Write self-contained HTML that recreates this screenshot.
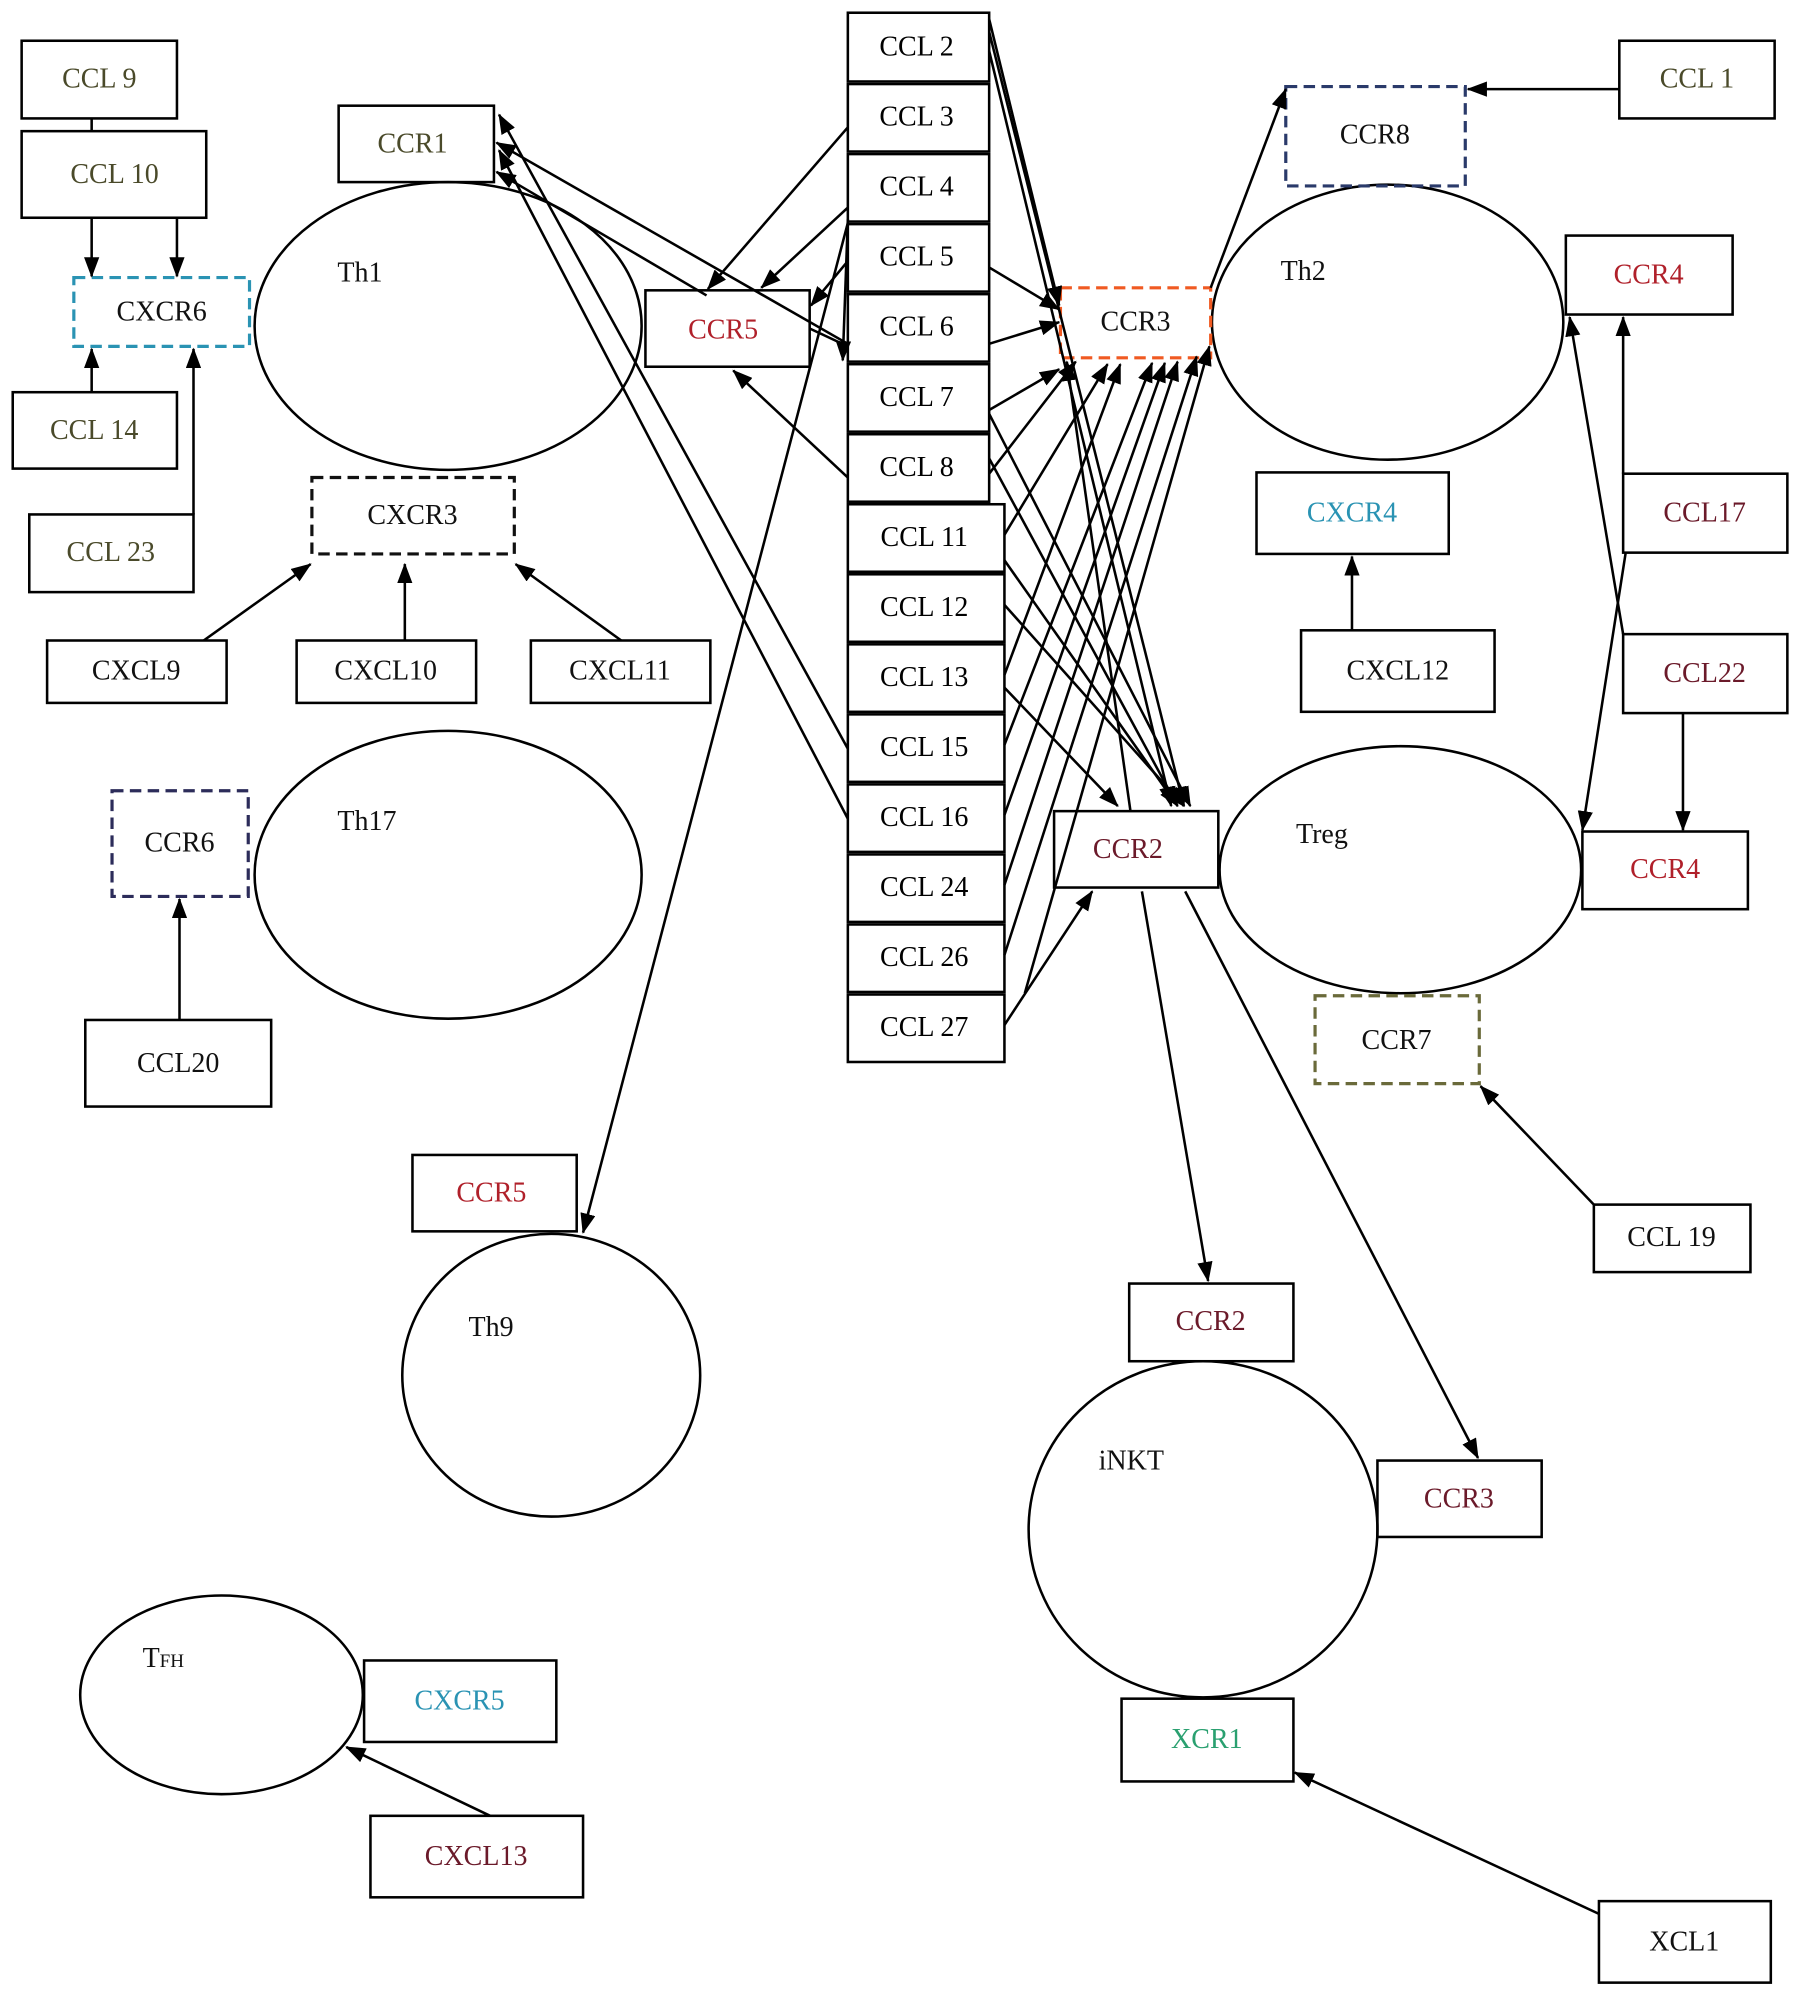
<!DOCTYPE html>
<html><head><meta charset="utf-8"><style>
html,body{margin:0;padding:0;background:#fff;}
svg{display:block;}
text{font-family:"Liberation Serif",serif;font-size:22px;}
</style></head><body>
<svg width="1795" height="1989" viewBox="0 0 1410 1562" preserveAspectRatio="none" xmlns="http://www.w3.org/2000/svg">
<defs><marker id="a" markerWidth="16" markerHeight="12" refX="15" refY="6" orient="auto" markerUnits="userSpaceOnUse"><path d="M0,0 L16,6 L0,12 z" fill="#000"/></marker></defs>
<rect width="1410" height="1562" fill="#fff"/>
<g fill="none" stroke="#000" stroke-width="2">
<!-- ellipses -->
<ellipse cx="352" cy="256" rx="152" ry="113"/>
<ellipse cx="352" cy="687" rx="152" ry="113"/>
<ellipse cx="433" cy="1080" rx="117" ry="111"/>
<ellipse cx="174" cy="1331" rx="111" ry="78"/>
<ellipse cx="1090" cy="253" rx="138" ry="108"/>
<ellipse cx="1100" cy="683" rx="142" ry="97"/>
<ellipse cx="945" cy="1201" rx="137" ry="132"/>
<!-- solid boxes -->
<rect x="17" y="32" width="122" height="61"/>
<rect x="17" y="103" width="145" height="68"/>
<rect x="10" y="308" width="129" height="60"/>
<rect x="23" y="404" width="129" height="61"/>
<rect x="266" y="83" width="122" height="60"/>
<rect x="37" y="503" width="141" height="49"/>
<rect x="233" y="503" width="141" height="49"/>
<rect x="417" y="503" width="141" height="49"/>
<rect x="507" y="228" width="129" height="60"/>
<rect x="67" y="801" width="146" height="68"/>
<rect x="324" y="907" width="129" height="60"/>
<rect x="286" y="1304" width="151" height="64"/>
<rect x="291" y="1426" width="167" height="64"/>
<rect x="1272" y="32" width="122" height="61"/>
<rect x="1230" y="185" width="131" height="62"/>
<rect x="987" y="371" width="151" height="64"/>
<rect x="1022" y="495" width="152" height="64"/>
<rect x="1275" y="372" width="129" height="62"/>
<rect x="1275" y="498" width="129" height="62"/>
<rect x="1243" y="653" width="130" height="61"/>
<rect x="828" y="637" width="129" height="60"/>
<rect x="1252" y="946" width="123" height="53"/>
<rect x="887" y="1008" width="129" height="61"/>
<rect x="1082" y="1147" width="129" height="60"/>
<rect x="881" y="1334" width="135" height="65"/>
<rect x="1256" y="1493" width="135" height="64"/>
<!-- CCL stack -->
<rect x="666" y="10" width="111" height="54"/>
<rect x="666" y="66" width="111" height="53"/>
<rect x="666" y="121" width="111" height="53"/>
<rect x="666" y="176" width="111" height="53"/>
<rect x="666" y="231" width="111" height="53"/>
<rect x="666" y="286" width="111" height="53"/>
<rect x="666" y="341" width="111" height="53"/>
<rect x="666" y="396" width="123" height="53"/>
<rect x="666" y="451" width="123" height="53"/>
<rect x="666" y="506" width="123" height="53"/>
<rect x="666" y="561" width="123" height="53"/>
<rect x="666" y="616" width="123" height="53"/>
<rect x="666" y="671" width="123" height="53"/>
<rect x="666" y="726" width="123" height="53"/>
<rect x="666" y="781" width="123" height="53"/>
</g>
<!-- dashed boxes -->
<g fill="none" stroke-width="2.5" stroke-dasharray="9,5">
<rect x="58" y="218" width="138" height="54" stroke="#2a93b3"/>
<rect x="245" y="375" width="159" height="60" stroke="#111"/>
<rect x="88" y="621" width="107" height="83" stroke="#2c2c5a"/>
<rect x="833" y="226" width="118" height="55" stroke="#f05a22"/>
<rect x="1010" y="68" width="141" height="78" stroke="#2a3a6a"/>
<rect x="1033" y="782" width="129" height="69" stroke="#6a6a3a"/>
</g>
<!-- connectors -->
<g stroke="#000" stroke-width="2" fill="none">
<line x1="72" y1="93" x2="72" y2="103"/>
<line x1="72" y1="171" x2="72" y2="217" marker-end="url(#a)"/>
<line x1="139" y1="171" x2="139" y2="217" marker-end="url(#a)"/>
<line x1="72" y1="308" x2="72" y2="274" marker-end="url(#a)"/>
<polyline points="152,404 152,274" marker-end="url(#a)"/>
<line x1="160" y1="503" x2="244" y2="443" marker-end="url(#a)"/>
<line x1="318" y1="503" x2="318" y2="443" marker-end="url(#a)"/>
<line x1="488" y1="503" x2="405" y2="443" marker-end="url(#a)"/>
<line x1="141" y1="801" x2="141" y2="706" marker-end="url(#a)"/>
<line x1="385" y1="1426" x2="272" y2="1372" marker-end="url(#a)"/>
<!-- to CCR1 -->
<line x1="666" y1="270" x2="390" y2="112" marker-end="url(#a)"/>
<line x1="555" y1="232" x2="390" y2="135" marker-end="url(#a)"/>
<line x1="666" y1="588" x2="392" y2="90" marker-end="url(#a)"/>
<line x1="666" y1="643" x2="392" y2="118" marker-end="url(#a)"/>
<!-- to CCR5 -->
<line x1="666" y1="100" x2="556" y2="227" marker-end="url(#a)"/>
<line x1="666" y1="163" x2="598" y2="226" marker-end="url(#a)"/>
<line x1="666" y1="205" x2="637" y2="240" marker-end="url(#a)"/>
<line x1="666" y1="375" x2="576" y2="291" marker-end="url(#a)"/>
<line x1="636" y1="258" x2="666" y2="272"/>
<line x1="666" y1="172" x2="662" y2="283" marker-end="url(#a)"/>
<line x1="666" y1="175" x2="458" y2="968" marker-end="url(#a)"/>
<!-- to CCR3 -->
<line x1="777" y1="15" x2="832" y2="240" marker-end="url(#a)"/>
<line x1="777" y1="210" x2="832" y2="243" marker-end="url(#a)"/>
<line x1="777" y1="270" x2="832" y2="253" marker-end="url(#a)"/>
<line x1="777" y1="322" x2="832" y2="290" marker-end="url(#a)"/>
<line x1="777" y1="372" x2="845" y2="284" marker-end="url(#a)"/>
<line x1="789" y1="420" x2="870" y2="286" marker-end="url(#a)"/>
<line x1="789" y1="530" x2="880" y2="286" marker-end="url(#a)"/>
<line x1="789" y1="585" x2="905" y2="285" marker-end="url(#a)"/>
<line x1="789" y1="640" x2="915" y2="285" marker-end="url(#a)"/>
<line x1="789" y1="695" x2="925" y2="284" marker-end="url(#a)"/>
<line x1="789" y1="750" x2="940" y2="280" marker-end="url(#a)"/>
<line x1="805" y1="780" x2="950" y2="272" marker-end="url(#a)"/>
<line x1="888" y1="637" x2="838" y2="284" marker-end="url(#a)"/>
<!-- to CCR2 -->
<line x1="777" y1="25" x2="930" y2="633" marker-end="url(#a)"/>
<line x1="777" y1="40" x2="920" y2="633" marker-end="url(#a)"/>
<line x1="777" y1="325" x2="935" y2="633" marker-end="url(#a)"/>
<line x1="777" y1="360" x2="925" y2="633" marker-end="url(#a)"/>
<line x1="789" y1="440" x2="925" y2="633" marker-end="url(#a)"/>
<line x1="789" y1="475" x2="930" y2="633" marker-end="url(#a)"/>
<line x1="789" y1="540" x2="878" y2="633" marker-end="url(#a)"/>
<line x1="789" y1="805" x2="858" y2="700" marker-end="url(#a)"/>
<!-- right side -->
<line x1="951" y1="226" x2="1010" y2="70" marker-end="url(#a)"/>
<line x1="1272" y1="70" x2="1153" y2="70" marker-end="url(#a)"/>
<line x1="1062" y1="495" x2="1062" y2="437" marker-end="url(#a)"/>
<line x1="1275" y1="372" x2="1275" y2="249" marker-end="url(#a)"/>
<line x1="1277" y1="434" x2="1243" y2="652" marker-end="url(#a)"/>
<line x1="1275" y1="498" x2="1233" y2="249" marker-end="url(#a)"/>
<line x1="1322" y1="560" x2="1322" y2="652" marker-end="url(#a)"/>
<line x1="1252" y1="946" x2="1163" y2="853" marker-end="url(#a)"/>
<line x1="897" y1="700" x2="949" y2="1006" marker-end="url(#a)"/>
<line x1="931" y1="700" x2="1161" y2="1145" marker-end="url(#a)"/>
<line x1="1256" y1="1503" x2="1017" y2="1392" marker-end="url(#a)"/>
</g>
<!-- labels -->
<g text-anchor="middle" dominant-baseline="central">
<text x="78" y="62" fill="#4a4a2a">CCL 9</text>
<text x="90" y="137" fill="#4a4a2a">CCL 10</text>
<text x="127" y="245" fill="#111">CXCR6</text>
<text x="74" y="338" fill="#4a4a2a">CCL 14</text>
<text x="87" y="434" fill="#4a4a2a">CCL 23</text>
<text x="324" y="113" fill="#4a4a2a">CCR1</text>
<text x="324" y="405" fill="#111">CXCR3</text>
<text x="107" y="527" fill="#111">CXCL9</text>
<text x="303" y="527" fill="#111">CXCL10</text>
<text x="487" y="527" fill="#111">CXCL11</text>
<text x="568" y="259" fill="#b0202a">CCR5</text>
<text x="141" y="662" fill="#111">CCR6</text>
<text x="140" y="835" fill="#111">CCL20</text>
<text x="386" y="937" fill="#b0202a">CCR5</text>
<text x="361" y="1336" fill="#2a93b3">CXCR5</text>
<text x="374" y="1458" fill="#6b1a2a">CXCL13</text>
<text x="720" y="37">CCL 2</text>
<text x="720" y="92">CCL 3</text>
<text x="720" y="147">CCL 4</text>
<text x="720" y="202">CCL 5</text>
<text x="720" y="257">CCL 6</text>
<text x="720" y="312">CCL 7</text>
<text x="720" y="367">CCL 8</text>
<text x="726" y="422">CCL 11</text>
<text x="726" y="477">CCL 12</text>
<text x="726" y="532">CCL 13</text>
<text x="726" y="587">CCL 15</text>
<text x="726" y="642">CCL 16</text>
<text x="726" y="697">CCL 24</text>
<text x="726" y="752">CCL 26</text>
<text x="726" y="807">CCL 27</text>
<text x="892" y="253" fill="#111">CCR3</text>
<text x="1080" y="106" fill="#111">CCR8</text>
<text x="1333" y="62" fill="#4a4a2a">CCL 1</text>
<text x="1295" y="216" fill="#b0202a">CCR4</text>
<text x="1062" y="403" fill="#2a93b3">CXCR4</text>
<text x="1098" y="527" fill="#111">CXCL12</text>
<text x="1339" y="403" fill="#6b1a2a">CCL17</text>
<text x="1339" y="529" fill="#6b1a2a">CCL22</text>
<text x="1308" y="683" fill="#b0202a">CCR4</text>
<text x="886" y="667" fill="#6b1a2a">CCR2</text>
<text x="1097" y="817" fill="#111">CCR7</text>
<text x="1313" y="972" fill="#111">CCL 19</text>
<text x="951" y="1038" fill="#6b1a2a">CCR2</text>
<text x="1146" y="1177" fill="#6b1a2a">CCR3</text>
<text x="948" y="1366" fill="#2aa070">XCR1</text>
<text x="1323" y="1525" fill="#111">XCL1</text>
</g>
<g fill="#111">
<text x="265" y="221">Th1</text>
<text x="265" y="652">Th17</text>
<text x="368" y="1049">Th9</text>
<text x="112" y="1309">T<tspan font-size="15">FH</tspan></text>
<text x="1006" y="220">Th2</text>
<text x="1018" y="662">Treg</text>
<text x="863" y="1154">iNKT</text>
</g>
</svg>
</body></html>
